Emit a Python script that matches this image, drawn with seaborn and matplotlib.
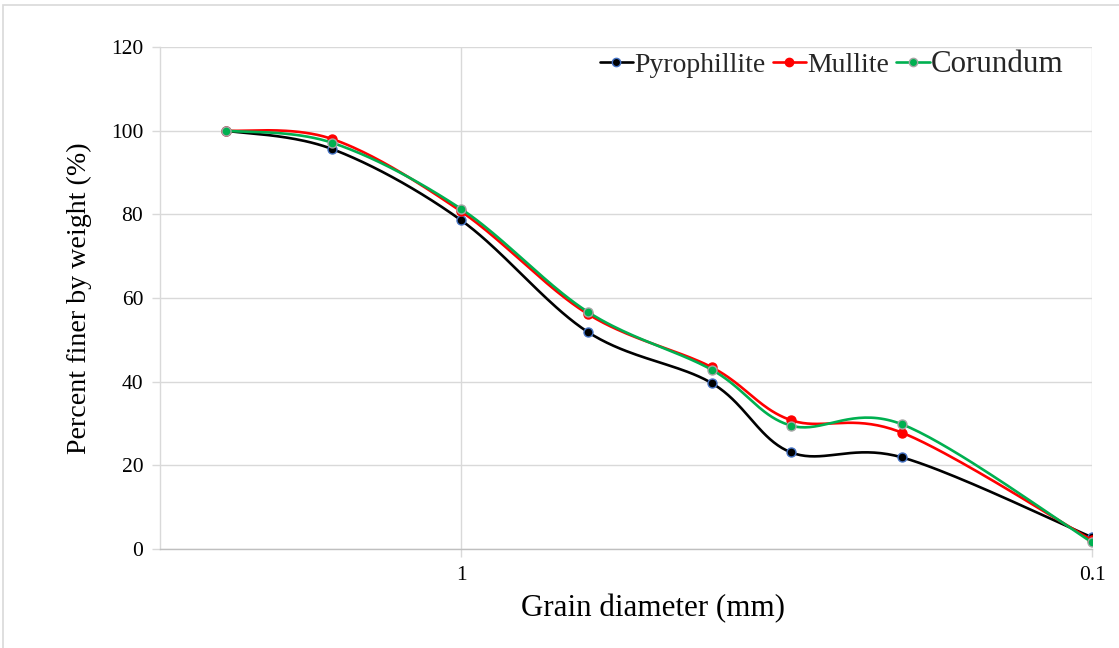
import numpy as np
import pandas as pd
import matplotlib
matplotlib.use("Agg")
import matplotlib.pyplot as plt
import seaborn as sns
from matplotlib.lines import Line2D
from matplotlib.patches import Rectangle

# ---- data ----
grain_mm = [2.36, 1.6, 1.0, 0.63, 0.4, 0.3, 0.2, 0.1]
pyrophillite = [100.0, 95.6, 78.6, 51.9, 39.6, 23.1, 21.9, 2.8]
mullite = [100.0, 98.0, 80.7, 56.2, 43.4, 30.8, 27.8, 2.1]
corundum = [100.0, 97.1, 81.3, 56.7, 42.8, 29.5, 29.8, 1.6]
series_names = ["Pyrophillite", "Mullite", "Corundum"]
x_ticks = [1, 0.1]
x_tick_labels = ["1", "0.1"]
y_ticks = [0, 20, 40, 60, 80, 100, 120]

line_colors = ["#000000", "#FF0000", "#00B050"]
edge_colors = ["#4472C4", "#FF0000", "#A5A5A5"]


def smooth(xs, ys, n=40):
    """Excel-like smoothed line: Catmull-Rom Bezier in (log10 x, y) space."""
    lx = np.log10(np.asarray(xs, float))
    y = np.asarray(ys, float)
    P = np.column_stack([lx, y])
    out = []
    m = len(P)
    for i in range(m - 1):
        p0 = P[i - 1] if i > 0 else P[i]
        p1 = P[i]
        p2 = P[i + 1]
        p3 = P[i + 2] if i + 2 < m else P[i + 1]
        c1 = p1 + (p2 - p0) / 6.0
        c2 = p2 - (p3 - p1) / 6.0
        t = np.linspace(0, 1, n, endpoint=(i == m - 2))[:, None]
        b = ((1 - t) ** 3) * p1 + 3 * ((1 - t) ** 2) * t * c1 + 3 * (1 - t) * t ** 2 * c2 + t ** 3 * p2
        out.append(b)
    B = np.vstack(out)
    return 10 ** B[:, 0], B[:, 1]


sns.set_theme(style="white")
plt.rcParams["font.family"] = ["Liberation Serif", "DejaVu Serif"]

fig = plt.figure(figsize=(11.19, 6.48), dpi=100)
ax = fig.add_axes([160 / 1119, 1 - 549 / 648, (1092 - 160) / 1119, (549 - 47) / 648])

# chart border
fig.patches.append(Rectangle((3 / 1119, -0.5), 1.5, 1.5 - 5 / 648, transform=fig.transFigure,
                             fill=False, edgecolor="#D9D9D9", linewidth=1.2, zorder=-5))

all_series = [pyrophillite, mullite, corundum]
handles = []
for k, (name, vals) in enumerate(zip(series_names, all_series)):
    sx, sy = smooth(grain_mm, vals)
    df_line = pd.DataFrame({"x": sx, "y": sy})
    sns.lineplot(data=df_line, x="x", y="y", sort=False, color=line_colors[k],
                 linewidth=1.9, ax=ax, zorder=3 + k, legend=False)
    df_pts = pd.DataFrame({"x": grain_mm, "y": vals})
    sns.scatterplot(data=df_pts, x="x", y="y", color=line_colors[k], edgecolor=edge_colors[k],
                    linewidth=1.0, s=42, ax=ax, zorder=3.5 + k, legend=False)
    handles.append(Line2D([0], [0], color=line_colors[k], linewidth=1.9, marker="o",
                          markersize=6, markerfacecolor=line_colors[k],
                          markeredgecolor=edge_colors[k], markeredgewidth=1.0))

ax.set_xscale("log")
ax.set_xlim(3.0, 0.1)
ax.set_ylim(0, 120)
ax.set_xticks(x_ticks)
ax.set_xticklabels(x_tick_labels)
ax.xaxis.set_minor_locator(matplotlib.ticker.NullLocator())
ax.set_yticks(y_ticks)

ax.grid(True, which="major", color="#D9D9D9", linewidth=1.0)
ax.set_axisbelow(True)
for side in ["top", "right"]:
    ax.spines[side].set_visible(False)
ax.spines["left"].set_color("#D9D9D9")
ax.spines["bottom"].set_color("#BFBFBF")
ax.spines["left"].set_linewidth(1.0)
ax.spines["bottom"].set_linewidth(1.0)
ax.tick_params(axis="both", which="major", direction="out", length=6, width=1.0,
               color="#D9D9D9", labelsize=15.5, labelcolor="#000000", pad=6,
               bottom=True, left=True)

ax.set_xlabel("Grain diameter (mm)", fontsize=22.3, labelpad=8, color="#000000")
ax.xaxis.set_label_coords((653 - 160) / 932, -0.09)
ax.set_ylabel("Percent finer by weight (%)", fontsize=20.2, labelpad=14, color="#000000")

leg = ax.legend(handles, series_names, loc="upper right", bbox_to_anchor=(0.9815, 1.016),
                ncol=3, frameon=False, fontsize=20, handlelength=1.2, handletextpad=0.05,
                columnspacing=0.25, borderaxespad=0.0)
leg.get_texts()[2].set_fontsize(22.3)

fig.savefig("out.png", dpi=100, facecolor="white")
